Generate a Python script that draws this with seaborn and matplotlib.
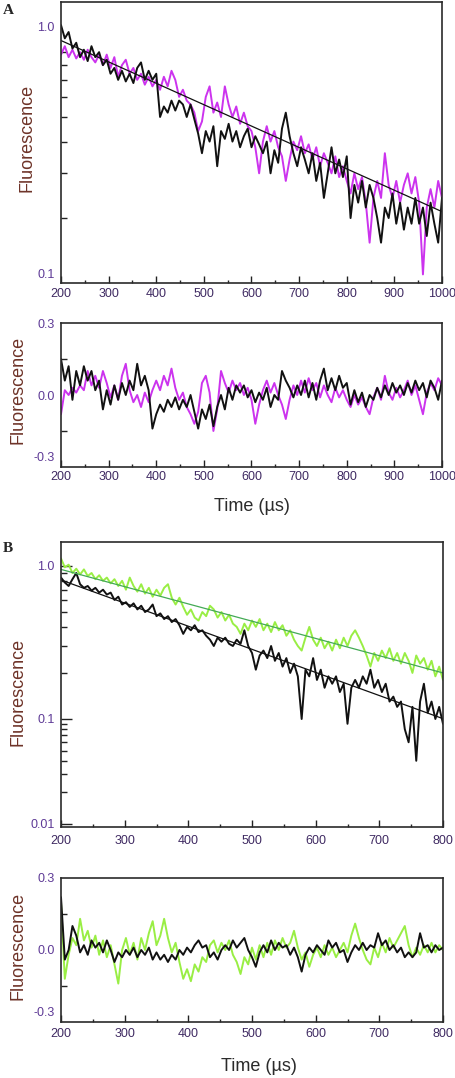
import matplotlib
matplotlib.use("Agg")
import matplotlib.pyplot as plt
from matplotlib.ticker import FixedLocator, NullFormatter, MultipleLocator
import numpy as np
import seaborn as sns

# --- panel A: sampled every 8 us, 200..1000 us
time_a = np.arange(200, 1001, 8)
black_a = [1.15, 1.02, 1.08, 0.93, 0.98, 0.86, 0.92, 0.83, 0.95, 0.86,
           0.90, 0.80, 0.84, 0.74, 0.78, 0.70, 0.76, 0.69, 0.74, 0.68,
           0.78, 0.82, 0.70, 0.76, 0.70, 0.74, 0.50, 0.55, 0.52, 0.58,
           0.53, 0.58, 0.56, 0.50, 0.56, 0.49, 0.43, 0.36, 0.44, 0.40,
           0.46, 0.32, 0.44, 0.41, 0.47, 0.40, 0.44, 0.38, 0.42, 0.45,
           0.38, 0.42, 0.39, 0.36, 0.40, 0.30, 0.37, 0.33, 0.45, 0.52,
           0.42, 0.36, 0.32, 0.38, 0.34, 0.30, 0.36, 0.28, 0.33, 0.24,
           0.30, 0.38, 0.30, 0.34, 0.29, 0.35, 0.20, 0.27, 0.23, 0.28,
           0.22, 0.27, 0.24, 0.20, 0.16, 0.22, 0.20, 0.25, 0.19, 0.23,
           0.18, 0.22, 0.19, 0.24, 0.19, 0.22, 0.17, 0.23, 0.19, 0.16,
           0.24]
magenta_a = [0.88, 0.95, 0.86, 0.92, 0.85, 0.90, 0.84, 0.92, 0.86, 0.82,
             0.88, 0.80, 0.88, 0.78, 0.86, 0.72, 0.80, 0.84, 0.74, 0.78,
             0.70, 0.74, 0.67, 0.72, 0.66, 0.70, 0.64, 0.72, 0.66, 0.76,
             0.70, 0.60, 0.64, 0.58, 0.56, 0.52, 0.44, 0.48, 0.60, 0.66,
             0.52, 0.57, 0.50, 0.66, 0.56, 0.50, 0.55, 0.47, 0.52, 0.46,
             0.44, 0.38, 0.30, 0.40, 0.46, 0.40, 0.44, 0.38, 0.35, 0.28,
             0.34, 0.40, 0.37, 0.42, 0.36, 0.39, 0.34, 0.38, 0.32, 0.36,
             0.33, 0.30, 0.35, 0.29, 0.32, 0.28, 0.25, 0.30, 0.26, 0.29,
             0.23, 0.16, 0.24, 0.28, 0.24, 0.36, 0.27, 0.24, 0.28, 0.23,
             0.27, 0.30, 0.25, 0.29, 0.23, 0.12, 0.22, 0.26, 0.22, 0.28,
             0.24]
fit_time_a = [200, 1000]
fit_a = [1.0, 0.212]
res_black_a = [0.15, 0.06, 0.12, -0.02, 0.10, 0.04, 0.12, 0.06, 0.10, 0.02,
               0.06, -0.06, 0.02, -0.04, 0.04, -0.02, 0.05, 0.00, 0.06, 0.02,
               0.13, 0.04, 0.08, 0.02, -0.14, -0.08, -0.04, -0.07, -0.02, -0.05,
               -0.01, -0.06, -0.02, -0.05, 0.00, -0.07, -0.14, -0.06, -0.10, -0.04,
               -0.13, -0.05, 0.00, -0.06, 0.03, -0.02, 0.04, 0.01, 0.04, -0.01,
               0.02, -0.03, 0.01, -0.02, 0.03, -0.05, 0.00, -0.02, 0.10, 0.06,
               0.03, -0.01, 0.04, 0.00, 0.06, -0.01, 0.05, -0.02, 0.06, 0.11,
               0.02, 0.07, 0.02, 0.08, 0.03, 0.05, -0.04, 0.02, -0.03, 0.01,
               -0.05, 0.00, -0.02, 0.03, -0.01, 0.04, 0.00, 0.05, 0.01, 0.04,
               0.00, 0.05, 0.01, 0.06, 0.02, 0.05, -0.01, 0.06, 0.03, -0.02,
               0.06]
res_magenta_a = [-0.08, 0.02, 0.00, 0.03, 0.01, 0.04, 0.02, 0.10, 0.04, 0.08,
                 0.03, 0.10, 0.05, -0.01, 0.04, -0.02, 0.08, 0.13, 0.02, -0.03,
                 0.00, -0.05, 0.01, -0.03, 0.02, 0.06, 0.02, 0.08, 0.04, 0.11,
                 0.03, -0.02, 0.01, -0.05, -0.08, -0.12, -0.07, 0.05, 0.08, 0.01,
                 -0.15, -0.06, 0.10, 0.05, 0.01, 0.06, 0.02, 0.05, 0.00, 0.03,
                 -0.02, -0.12, -0.04, 0.02, 0.06, 0.01, 0.05, 0.00, -0.04, -0.10,
                 -0.02, 0.04, 0.00, 0.06, 0.01, 0.07, 0.02, 0.05, -0.01, 0.04,
                 0.00, -0.03, 0.03, -0.01, 0.02, -0.02, -0.05, 0.00, -0.04, -0.01,
                 -0.05, -0.08, -0.01, 0.03, -0.02, 0.08, 0.01, -0.02, 0.03, -0.01,
                 0.02, 0.06, 0.00, 0.04, -0.02, -0.08, 0.01, 0.05, 0.02, 0.07,
                 0.04]

# --- panel B: sampled every 6 us, 200..800 us
time_b = np.arange(200, 801, 6)
green_b = [1.12, 0.98, 1.02, 0.90, 0.96, 0.88, 0.95, 0.86, 0.90, 0.82,
           0.87, 0.80, 0.84, 0.77, 0.82, 0.74, 0.80, 0.70, 0.84, 0.74,
           0.68, 0.76, 0.66, 0.72, 0.63, 0.70, 0.64, 0.72, 0.76, 0.62,
           0.56, 0.62, 0.54, 0.48, 0.52, 0.46, 0.44, 0.50, 0.47, 0.55,
           0.52, 0.46, 0.50, 0.44, 0.48, 0.42, 0.40, 0.36, 0.42, 0.38,
           0.44, 0.40, 0.45, 0.38, 0.42, 0.37, 0.43, 0.38, 0.41, 0.35,
           0.38, 0.33, 0.30, 0.28, 0.34, 0.40, 0.33, 0.30, 0.34, 0.29,
           0.32, 0.28, 0.33, 0.29, 0.34, 0.30, 0.35, 0.38, 0.34, 0.30,
           0.26, 0.22, 0.27, 0.24, 0.28, 0.25, 0.29, 0.24, 0.27, 0.23,
           0.27, 0.24, 0.20, 0.26, 0.23, 0.25, 0.21, 0.24, 0.19, 0.22,
           0.18]
black_b = [0.84, 0.78, 0.74, 0.82, 0.90, 0.76, 0.72, 0.74, 0.69, 0.72,
           0.67, 0.70, 0.65, 0.67, 0.60, 0.63, 0.56, 0.58, 0.54, 0.57,
           0.52, 0.55, 0.50, 0.52, 0.56, 0.47, 0.49, 0.45, 0.47, 0.43,
           0.45, 0.41, 0.36, 0.40, 0.38, 0.41, 0.37, 0.38, 0.35, 0.33,
           0.30, 0.34, 0.32, 0.34, 0.31, 0.30, 0.33, 0.31, 0.38, 0.30,
           0.27, 0.21, 0.26, 0.28, 0.25, 0.30, 0.24, 0.27, 0.22, 0.25,
           0.20, 0.23, 0.19, 0.10, 0.21, 0.19, 0.25, 0.18, 0.21, 0.16,
           0.19, 0.17, 0.19, 0.15, 0.17, 0.09, 0.16, 0.18, 0.16, 0.19,
           0.17, 0.21, 0.16, 0.18, 0.15, 0.17, 0.13, 0.14, 0.12, 0.13,
           0.08, 0.06, 0.12, 0.04, 0.13, 0.17, 0.11, 0.13, 0.10, 0.12,
           0.09]
fit_time_b = [200, 800]
fit_green_b = [0.95, 0.20]
fit_black_b = [0.81, 0.1005]
res_black_b = [0.22, -0.04, 0.00, 0.10, 0.06, -0.01, 0.02, -0.02, 0.04, 0.01,
               0.03, -0.01, 0.04, 0.00, -0.05, -0.01, -0.03, 0.00, -0.02, 0.01,
               -0.03, 0.00, -0.02, 0.01, -0.04, -0.01, -0.04, -0.02, -0.05, -0.02,
               -0.04, 0.00, -0.02, 0.01, -0.01, 0.02, 0.04, 0.01, 0.02, -0.03,
               -0.01, -0.04, 0.00, 0.02, 0.00, 0.04, 0.01, 0.03, 0.05, 0.00,
               -0.03, -0.07, -0.01, 0.02, -0.01, 0.04, 0.00, 0.03, 0.01, 0.02,
               -0.02, 0.01, -0.03, -0.09, -0.02, 0.01, -0.01, 0.02, 0.00, -0.02,
               0.04, 0.01, 0.03, -0.01, 0.00, -0.05, -0.01, 0.02, 0.00, 0.03,
               0.00, 0.02, 0.01, 0.07, 0.02, 0.04, 0.00, 0.02, -0.01, 0.01,
               -0.03, -0.01, -0.03, -0.01, 0.07, 0.01, 0.02, -0.01, 0.02, 0.00,
               0.01]
res_green_b = [0.20, -0.12, -0.02, 0.05, 0.02, 0.13, 0.04, 0.08, 0.01, 0.06,
               -0.02, 0.04, -0.03, 0.02, -0.06, -0.14, 0.00, 0.05, -0.02, 0.03,
               -0.04, 0.05, 0.00, 0.07, 0.12, 0.02, 0.06, 0.13, 0.05, -0.01,
               0.03, -0.05, -0.12, -0.08, -0.13, -0.06, -0.09, -0.03, -0.05, 0.02,
               0.04, -0.01, 0.03, 0.00, 0.04, -0.02, -0.05, -0.10, -0.03, -0.06,
               0.01, -0.04, 0.02, -0.03, 0.03, -0.02, 0.04, 0.00, 0.05, 0.01,
               0.03, 0.08, 0.01, -0.04, -0.01, -0.07, -0.02, 0.01, -0.03, 0.02,
               -0.02, 0.01, -0.03, 0.00, 0.03, -0.01, 0.06, 0.11, 0.05, 0.00,
               -0.04, -0.06, 0.01, -0.03, 0.03, -0.01, 0.05, 0.01, 0.04, 0.07,
               0.10, 0.02, -0.03, 0.01, -0.02, 0.02, -0.01, 0.03, -0.01, 0.02,
               0.00]

MAGENTA = "#cc33ee"
GREEN = "#99ee44"
GREEN_FIT = "#44aa55"
BLACK = "#111111"
XTICK_C = "#3f2a62"
YTICK_C = "#5e3a96"
YLAB_C = "#6e3328"

sns.set_theme(style="white")
plt.rcParams["font.family"] = ["Liberation Sans", "DejaVu Sans"]

W, H = 456, 1078
fig = plt.figure(figsize=(W / 100, H / 100), dpi=100)


def box(l, t, r, b):
    return [l / W, 1 - b / H, (r - l) / W, (b - t) / H]


ax1 = fig.add_axes(box(61, 2, 442, 283))
ax2 = fig.add_axes(box(61, 323, 442, 467))
ax3 = fig.add_axes(box(61, 542, 443, 827))
ax4 = fig.add_axes(box(61, 878, 443, 1022))


def trace(ax, x, y, color, lw=1.4):
    sns.lineplot(x=x, y=y, ax=ax, color=color, linewidth=lw,
                 estimator=None, sort=False, legend=False)


trace(ax1, time_a, magenta_a, MAGENTA)
trace(ax1, time_a, black_a, BLACK)
trace(ax1, fit_time_a, fit_a, BLACK, 0.9)

trace(ax2, time_a, res_magenta_a, MAGENTA)
trace(ax2, time_a, res_black_a, BLACK)

trace(ax3, time_b, green_b, GREEN)
trace(ax3, time_b, black_b, BLACK)
trace(ax3, fit_time_b, fit_green_b, GREEN_FIT, 0.9)
trace(ax3, fit_time_b, fit_black_b, BLACK, 0.9)

trace(ax4, time_b, res_green_b, GREEN)
trace(ax4, time_b, res_black_b, BLACK)

# panel A log axis
ax1.set_yscale("log")
ax1.set_ylim(0.111, 1.418)
ax1.yaxis.set_major_locator(FixedLocator([0.1215, 1.14]))
ax1.set_yticklabels(["0.1", "1.0"])
ax1.yaxis.set_minor_locator(FixedLocator([0.2, 0.3, 0.4, 0.5, 0.6, 0.7, 0.8, 0.9]))
ax1.yaxis.set_minor_formatter(NullFormatter())
ax1.tick_params(axis="y", which="major", length=0)

# panel B: piecewise log axis (decades drawn at different heights)
LOGK = [-3, -2, -1, 0, 1]
POSK = [-105, 0, 105, 258, 411]


def fwd(v):
    v = np.clip(np.asarray(v, dtype=float), 1e-9, None)
    return np.interp(np.log10(v), LOGK, POSK)


def inv(p):
    return 10 ** np.interp(np.asarray(p, dtype=float), POSK, LOGK)


ax3.set_yscale("function", functions=(fwd, inv))
ax3.set_ylim(0.00936, 1.435)
ax3.yaxis.set_major_locator(FixedLocator([0.01, 0.1, 1.0]))
ax3.set_yticklabels(["0.01", "0.1", "1.0"])
ax3.yaxis.set_minor_locator(FixedLocator(
    [0.02, 0.03, 0.04, 0.05, 0.06, 0.07, 0.08, 0.09,
     0.2, 0.3, 0.4, 0.5, 0.6, 0.7, 0.8, 0.9]))
ax3.yaxis.set_minor_formatter(NullFormatter())
ax3.tick_params(axis="y", which="major", length=8, width=1.0)

# residual axes
for ax in (ax2, ax4):
    ax.set_ylim(-0.3, 0.3)
    ax.yaxis.set_major_locator(FixedLocator([-0.258, 0.0, 0.3]))
    ax.set_yticklabels(["-0.3", "0.0", "0.3"])
    ax.yaxis.set_minor_locator(FixedLocator([-0.15, 0.15]))
    ax.tick_params(axis="y", which="major", length=0)

for ax, xmax in ((ax1, 1000), (ax2, 1000), (ax3, 800), (ax4, 800)):
    ax.set_xlim(200, xmax)
    ax.xaxis.set_major_locator(MultipleLocator(100))
    ax.xaxis.set_minor_locator(MultipleLocator(50))
    ax.tick_params(axis="x", which="major", direction="in", length=5, width=1.0,
                   bottom=True, top=False, labelsize=9, labelcolor=XTICK_C, color="#222222")
    ax.tick_params(axis="x", which="minor", direction="in", length=2.5, width=1.0,
                   bottom=True, top=False, color="#222222")
    ax.tick_params(axis="y", which="both", direction="in", left=True, right=False,
                   labelsize=9, labelcolor=YTICK_C, pad=4.5, color="#222222")
    ax.tick_params(axis="y", which="minor", length=4.3, width=1.0)
    for s in ax.spines.values():
        s.set_visible(True)
        s.set_color("#2a2a2a")
        s.set_linewidth(1.2)
    ax.set_xlabel("")
    ax.set_ylabel("Fluorescence", fontsize=13, color=YLAB_C)

ax1.tick_params(axis="x", pad=3.4)
ax2.tick_params(axis="x", pad=2.7)
ax3.tick_params(axis="x", pad=5.5)
ax4.tick_params(axis="x", pad=4.1)

ax1.yaxis.set_label_coords(-0.068, 0.516)
ax2.yaxis.set_label_coords(-0.09, 0.535)
ax3.yaxis.set_label_coords(-0.09, 0.474)
ax4.yaxis.set_label_coords(-0.09, 0.528)

ax2.set_xlabel("Time (µs)", fontsize=13, color="#2b2b2b")
ax2.xaxis.set_label_coords(0.501, -0.215)
ax4.set_xlabel("Time (µs)", fontsize=13, color="#2b2b2b")
ax4.xaxis.set_label_coords(0.517, -0.25)

fig.text(3 / W, 1 - 10 / H, "A", fontsize=11, fontweight="bold",
         family=["Liberation Serif", "DejaVu Serif"], va="center", ha="left")
fig.text(3 / W, 1 - 548 / H, "B", fontsize=11, fontweight="bold",
         family=["Liberation Serif", "DejaVu Serif"], va="center", ha="left")

fig.savefig("out.png", dpi=100)
